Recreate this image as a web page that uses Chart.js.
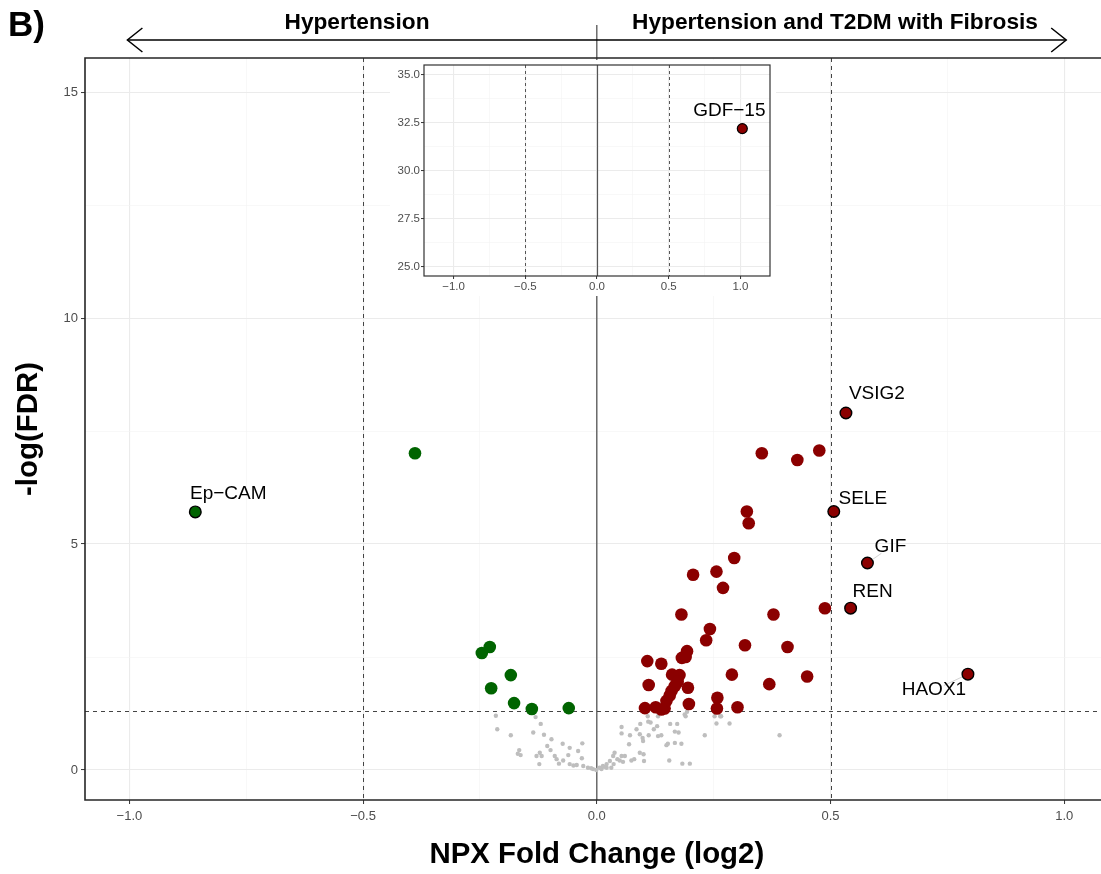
<!DOCTYPE html>
<html><head><meta charset="utf-8">
<script src="https://cdn.jsdelivr.net/npm/chart.js@4.4.1/dist/chart.umd.min.js"></script>
<style>
html,body{margin:0;padding:0;overflow:hidden;background:#fff;}
#main{position:absolute;left:0;top:0;}
#inset{position:absolute;left:390px;top:60px;}
</style></head><body>
<canvas id="main" width="1101" height="874"></canvas>
<canvas id="inset" width="386" height="236"></canvas>
<script>
// ---------------- DATA ----------------
const greyX = [-0.216,-0.213,-0.184,-0.131,-0.120,-0.136,-0.113,-0.097,-0.166,-0.163,-0.169,-0.122,-0.129,-0.118,-0.123,-0.106,-0.099,-0.090,-0.086,-0.081,-0.073,-0.058,-0.061,-0.058,-0.072,-0.040,-0.031,-0.032,-0.043,-0.029,-0.019,-0.008,-0.001,-0.050,-0.012,
  0.010,0.021,0.006,0.013,0.021,0.028,0.036,0.031,0.038,0.035,0.053,0.060,0.049,0.056,0.074,0.080,0.092,0.100,0.101,0.053,0.053,0.071,0.085,0.092,0.098,0.099,0.093,0.110,0.115,0.111,0.122,0.129,0.131,0.138,0.131,0.157,0.172,0.167,0.175,0.149,0.152,0.167,0.181,0.188,0.193,0.231,0.252,0.264,0.256,0.284,0.391,0.155,0.183,0.199,0.069,0.016,0.044,0.109,0.190,0.266];
const greyY = [1.20,0.90,0.77,1.17,1.02,0.83,0.78,0.68,0.44,0.33,0.36,0.38,0.31,0.31,0.13,0.53,0.44,0.31,0.24,0.14,0.58,0.49,0.33,0.13,0.21,0.42,0.59,0.26,0.11,0.09,0.05,0.02,0.00,0.10,0.04,
  0.02,0.05,0.05,0.09,0.13,0.20,0.13,0.05,0.38,0.31,0.31,0.31,0.21,0.18,0.21,0.24,0.38,0.35,0.20,0.95,0.81,0.77,0.90,0.79,0.71,0.64,1.02,1.07,1.05,0.77,0.90,0.97,0.75,0.77,1.19,1.02,1.02,0.85,0.83,0.55,0.58,0.60,0.58,1.23,1.29,0.77,1.19,1.19,1.03,1.03,0.77,0.21,0.14,0.14,0.57,0.07,0.24,1.19,1.19,1.19];

const greenX = [-0.389,-0.246,-0.229,-0.226,-0.184,-0.177,-0.139,-0.060];
const greenY = [7.01,2.59,2.72,1.81,2.10,1.48,1.35,1.37];

const redX = [0.353,0.429,0.476,0.321,0.325,0.294,0.206,0.256,0.270,0.181,0.378,0.488,0.242,0.234,0.317,0.408,0.193,0.182,0.190,0.108,0.138,0.289,0.450,0.369,0.161,0.177,0.111,0.167,0.195,0.160,0.149,0.197,0.258,0.257,0.301,0.103,0.126,0.145,0.138,0.156,0.173];
const redY = [7.01,6.86,7.07,5.72,5.46,4.69,4.32,4.39,4.03,3.44,3.44,3.58,3.12,2.87,2.76,2.72,2.63,2.48,2.50,2.41,2.35,2.11,2.07,1.90,2.11,2.10,1.88,1.86,1.82,1.75,1.53,1.46,1.60,1.36,1.39,1.37,1.39,1.36,1.34,1.65,1.95];

const labelNames = ['Ep\u2212CAM','VSIG2','SELE','GIF','REN','HAOX1'];
const labelX = [-0.859,0.533,0.507,0.579,0.543,0.794];
const labelY = [5.71,7.90,5.72,4.58,3.58,2.12];
const labelGroup = ['down','up','up','up','up','up'];

const insetNames = ['GDF\u221215'];
const insetX = [1.013];
const insetY = [32.18];

const xMajorTicks = [-1.0,-0.5,0.0,0.5,1.0];
const xMinorTicks = [-0.75,-0.25,0.25,0.75];
const yMajorTicks = [0,5,10,15];
const yMinorTicks = [2.5,7.5,12.5];
const insetYMajorTicks = [25.0,27.5,30.0,32.5,35.0];
const insetYMinorTicks = [26.25,28.75,31.25,33.75];

const fcThresholds = [-0.5,0.5];
const fdrThreshold = 1.3;

const panelTag = 'B)';
const headerLeft = 'Hypertension';
const headerRight = 'Hypertension and T2DM with Fibrosis';
const xTitle = 'NPX Fold Change (log2)';
const yTitle = '-log(FDR)';

// ---------------- STYLE ----------------
const FONT = '"Liberation Sans", Arial, Helvetica, sans-serif';
const COLORS = {up:'#8B0000', down:'#006400', ns:'#BEBEBE'};
const labelOffsets = {'Ep\u2212CAM':[33,-18],'VSIG2':[31,-19],'SELE':[29,-13],'GIF':[23,-16],'REN':[22,-16],'HAOX1':[-34,16],'GDF\u221215':[-13,-18]};
const labelSegments = {'GIF':true,'HAOX1':true};

const pts = (xs, ys) => xs.map((x, i) => ({x, y: ys[i]}));
const near = (arr, v) => arr.some(m => Math.abs(m - v) < 1e-9);
const fmt1 = v => (v < 0 ? '\u2212' : '') + Math.abs(v).toFixed(1);
const fmt0 = v => (v < 0 ? '\u2212' : '') + Math.abs(v).toFixed(0);

function axisOpts(o) {
  const major = o.major, minor = o.minor;
  return {
    type: 'linear', min: o.min, max: o.max,
    afterBuildTicks: s => { s.ticks = [...major, ...minor].sort((a, b) => a - b).map(v => ({value: v})); },
    ticks: {autoSkip: false, maxRotation: 0, minRotation: 0, padding: o.pad, color: '#4d4d4d',
      font: {family: FONT, size: o.fontSize}, callback: v => near(major, v) ? o.fmt(v) : ''},
    grid: {
      color: c => (c.tick && near(minor, c.tick.value)) ? '#f3f3f3' : '#ebebeb',
      lineWidth: c => (c.tick && near(minor, c.tick.value)) ? 0.6 : 1.1,
      tickColor: c => (c.tick && near(minor, c.tick.value)) ? 'rgba(0,0,0,0)' : '#333',
      tickLength: o.tickLen, tickWidth: 1, drawTicks: true, drawOnChartArea: true
    },
    border: {display: false},
    afterFit: s => {
      s.paddingLeft = 0; s.paddingRight = 0; s.paddingTop = 0; s.paddingBottom = 0;
      if (o.isX) s.height = o.size; else s.width = o.size;
    }
  };
}

function drawLabel(ctx, name, px, py, size) {
  const off = labelOffsets[name] || [0, -16];
  const tx = px + off[0], ty = py + off[1];
  if (labelSegments[name]) {
    ctx.save();
    ctx.strokeStyle = '#c8c8c8'; ctx.lineWidth = 0.8;
    const dx = tx - px, dy = ty - py, d = Math.hypot(dx, dy);
    ctx.beginPath();
    ctx.moveTo(px + dx / d * 6.5, py + dy / d * 6.5);
    ctx.lineTo(px + dx / d * (d - 11), py + dy / d * (d - 11));
    ctx.stroke();
    ctx.restore();
  }
  ctx.fillStyle = '#000';
  ctx.font = size + 'px ' + FONT;
  ctx.textAlign = 'center'; ctx.textBaseline = 'middle';
  ctx.fillText(name, tx, ty);
}

// ---------------- MAIN CHART ----------------
const mainDecor = {
  id: 'mainDecor',
  beforeDraw(chart) {
    const c = chart.ctx; c.save(); c.fillStyle = '#fff'; c.fillRect(0, 0, chart.width, chart.height); c.restore();
  },
  beforeDatasetsDraw(chart) {
    const {ctx, chartArea: a, scales: {x, y}} = chart;
    ctx.save();
    const x0 = x.getPixelForValue(0);
    ctx.strokeStyle = '#555'; ctx.lineWidth = 1.3;
    ctx.beginPath(); ctx.moveTo(x0, 25); ctx.lineTo(x0, a.bottom); ctx.stroke();
    ctx.setLineDash([4, 4]); ctx.strokeStyle = '#444'; ctx.lineWidth = 1;
    fcThresholds.forEach(v => {
      const px = Math.round(x.getPixelForValue(v)) + 0.5;
      ctx.beginPath(); ctx.moveTo(px, a.top); ctx.lineTo(px, a.bottom); ctx.stroke();
    });
    const py = Math.round(y.getPixelForValue(fdrThreshold)) + 0.5;
    ctx.beginPath(); ctx.moveTo(a.left, py); ctx.lineTo(a.right, py); ctx.stroke();
    ctx.restore();
  },
  afterDatasetsDraw(chart) {
    const {ctx, chartArea: a, scales: {x, y}} = chart;
    ctx.save();
    labelNames.forEach((n, i) => drawLabel(ctx, n, x.getPixelForValue(labelX[i]), y.getPixelForValue(labelY[i]), 19));
    // panel border (right edge lies outside the picture)
    ctx.strokeStyle = '#262626'; ctx.lineWidth = 1.6;
    ctx.beginPath();
    ctx.moveTo(a.right + 2, a.top); ctx.lineTo(a.left, a.top); ctx.lineTo(a.left, a.bottom); ctx.lineTo(a.right + 2, a.bottom);
    ctx.stroke();
    // header
    ctx.fillStyle = '#000';
    ctx.font = 'bold 35px ' + FONT; ctx.textAlign = 'left'; ctx.textBaseline = 'alphabetic';
    ctx.fillText(panelTag, 8, 36);
    ctx.font = 'bold 22.7px ' + FONT; ctx.textAlign = 'center';
    ctx.fillText(headerLeft, 357, 28.5);
    ctx.fillText(headerRight, 835, 28.5);
    const xl = x.getPixelForValue(-1.0) - 2, xr = x.getPixelForValue(1.0) + 2, ay = 40;
    ctx.strokeStyle = '#000'; ctx.lineWidth = 1.5;
    ctx.beginPath(); ctx.moveTo(xl, ay); ctx.lineTo(xr, ay); ctx.stroke();
    ctx.beginPath(); ctx.moveTo(xl + 15, ay - 12); ctx.lineTo(xl, ay); ctx.lineTo(xl + 15, ay + 12); ctx.stroke();
    ctx.beginPath(); ctx.moveTo(xr - 15, ay - 12); ctx.lineTo(xr, ay); ctx.lineTo(xr - 15, ay + 12); ctx.stroke();
    // axis titles
    ctx.font = 'bold 29.4px ' + FONT; ctx.textAlign = 'center'; ctx.textBaseline = 'middle';
    ctx.fillText(xTitle, x.getPixelForValue(0), 855);
    ctx.translate(29, (a.top + a.bottom) / 2); ctx.rotate(-Math.PI / 2);
    ctx.fillText(yTitle, 0, 0);
    ctx.restore();
  }
};

const labeledColors = labelGroup.map(g => COLORS[g]);

new Chart(document.getElementById('main'), {
  type: 'scatter',
  data: {datasets: [
    {data: pts(greyX, greyY), pointRadius: 2.2, backgroundColor: COLORS.ns, borderWidth: 0, order: 4},
    {data: pts(greenX, greenY), pointRadius: 6.3, backgroundColor: COLORS.down, borderWidth: 0, order: 3},
    {data: pts(redX, redY), pointRadius: 6.3, backgroundColor: COLORS.up, borderWidth: 0, order: 2},
    {data: pts(labelX, labelY), pointRadius: 5.8, backgroundColor: labeledColors, borderColor: '#000', borderWidth: 1.4, order: 1}
  ]},
  options: {
    responsive: false, animation: false, events: [], devicePixelRatio: 1,
    layout: {autoPadding: false, padding: {top: 58, left: 0, right: 0, bottom: 0}},
    plugins: {legend: {display: false}, tooltip: {enabled: false}},
    scales: {
      x: axisOpts({min: -1.095, max: 1.0787, major: xMajorTicks, minor: xMinorTicks, fmt: fmt1, fontSize: 13, tickLen: 4, pad: 5, size: 74, isX: true}),
      y: axisOpts({min: -0.664, max: 15.755, major: yMajorTicks, minor: yMinorTicks, fmt: fmt0, fontSize: 13, tickLen: 4, pad: 3, size: 85, isX: false})
    }
  },
  plugins: [mainDecor]
});

// ---------------- INSET CHART ----------------
const insetDecor = {
  id: 'insetDecor',
  beforeDraw(chart) {
    const c = chart.ctx; c.save(); c.fillStyle = '#fff'; c.fillRect(0, 0, chart.width, chart.height); c.restore();
  },
  beforeDatasetsDraw(chart) {
    const {ctx, chartArea: a, scales: {x}} = chart;
    ctx.save();
    const x0 = Math.round(x.getPixelForValue(0)) + 0.5;
    ctx.strokeStyle = '#555'; ctx.lineWidth = 1.2;
    ctx.beginPath(); ctx.moveTo(x0, a.top); ctx.lineTo(x0, a.bottom); ctx.stroke();
    ctx.setLineDash([3, 3]); ctx.strokeStyle = '#444'; ctx.lineWidth = 0.9;
    fcThresholds.forEach(v => {
      const px = Math.round(x.getPixelForValue(v)) + 0.5;
      ctx.beginPath(); ctx.moveTo(px, a.top); ctx.lineTo(px, a.bottom); ctx.stroke();
    });
    ctx.restore();
  },
  afterDatasetsDraw(chart) {
    const {ctx, chartArea: a, scales: {x, y}} = chart;
    ctx.save();
    insetNames.forEach((n, i) => drawLabel(ctx, n, x.getPixelForValue(insetX[i]), y.getPixelForValue(insetY[i]), 19));
    ctx.strokeStyle = '#333'; ctx.lineWidth = 1.2;
    ctx.strokeRect(a.left, a.top, a.right - a.left, a.bottom - a.top);
    ctx.restore();
  }
};

new Chart(document.getElementById('inset'), {
  type: 'scatter',
  data: {datasets: [
    {data: pts(insetX, insetY), pointRadius: 5, backgroundColor: COLORS.up, borderColor: '#000', borderWidth: 1.2}
  ]},
  options: {
    responsive: false, animation: false, events: [], devicePixelRatio: 1,
    layout: {autoPadding: false, padding: {top: 5, left: 0, right: 6, bottom: 0}},
    plugins: {legend: {display: false}, tooltip: {enabled: false}},
    scales: {
      x: axisOpts({min: -1.206, max: 1.206, major: xMajorTicks, minor: xMinorTicks, fmt: fmt1, fontSize: 11.5, tickLen: 3, pad: 1, size: 20, isX: true}),
      y: axisOpts({min: 24.51, max: 35.49, major: insetYMajorTicks, minor: insetYMinorTicks, fmt: fmt1, fontSize: 11.5, tickLen: 3, pad: 1, size: 34, isX: false})
    }
  },
  plugins: [insetDecor]
});
</script>
</body></html>
